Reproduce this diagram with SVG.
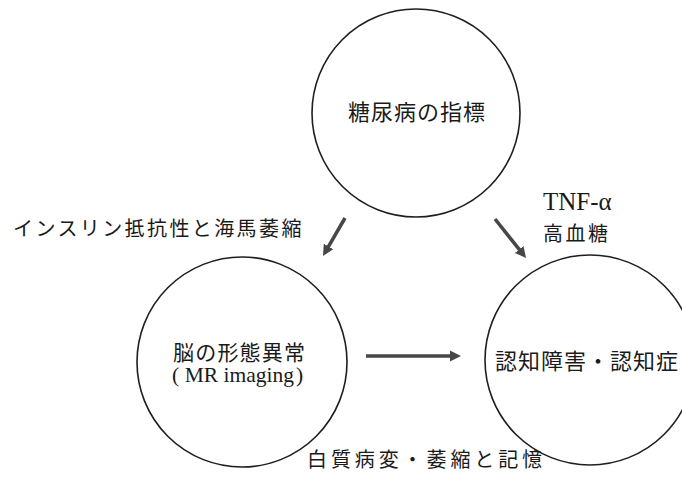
<svg xmlns="http://www.w3.org/2000/svg" width="682" height="481" viewBox="0 0 682 481">
  <style>
    .node { fill: none; stroke: #1e1e1e; stroke-width: 1.6; }
    .t { font-family: "Liberation Serif", "Noto Sans CJK JP", serif; fill: #1a1a1a; }
    .arrow { stroke: #474747; stroke-width: 3.5; fill: none; marker-end: url(#ah); }
  </style>
  <defs>
    <marker id="ah" markerUnits="userSpaceOnUse" markerWidth="12" markerHeight="12" viewBox="0 0 12 12" refX="1" refY="6" orient="auto">
      <path d="M0,0.5 L11,6 L0,11.5 Z" fill="#474747"/>
    </marker>
  </defs>
  <rect width="682" height="481" fill="#ffffff"/>

  <g id="node-diabetes">
    <circle class="node" cx="416" cy="113" r="104"/>
    <text class="t" x="348" y="120" font-size="22" letter-spacing="1">糖尿病の指標</text>
  </g>

  <g id="node-brain">
    <circle class="node" cx="242" cy="362" r="105"/>
    <text class="t" x="173" y="359.5" font-size="21" letter-spacing="1.2">脳の形態異常</text>
    <text class="t" x="172" y="382" font-size="21.5">(<tspan dx="5.5">MR imaging</tspan><tspan dx="2">)</tspan></text>
  </g>

  <g id="node-dementia">
    <circle class="node" cx="590" cy="360" r="105"/>
    <text class="t" x="495" y="368.5" font-size="22" letter-spacing="1">認知障害・認知症</text>
  </g>

  <g id="connectors">
    <line class="arrow" x1="345" y1="218" x2="328" y2="247.3"/>
    <line class="arrow" x1="495" y1="219" x2="519.8" y2="250.2"/>
    <line class="arrow" x1="366" y1="356" x2="451" y2="356"/>
    <text class="t" x="13" y="236" font-size="20" letter-spacing="2.4">インスリン抵抗性と海馬萎縮</text>
    <text class="t" x="543" y="210" font-size="25">TNF-α</text>
    <text class="t" x="543" y="241" font-size="20" letter-spacing="2.5">高血糖</text>
    <text class="t" x="307" y="467" font-size="20" letter-spacing="3.9">白質病変・萎縮と記憶</text>
  </g>
</svg>
